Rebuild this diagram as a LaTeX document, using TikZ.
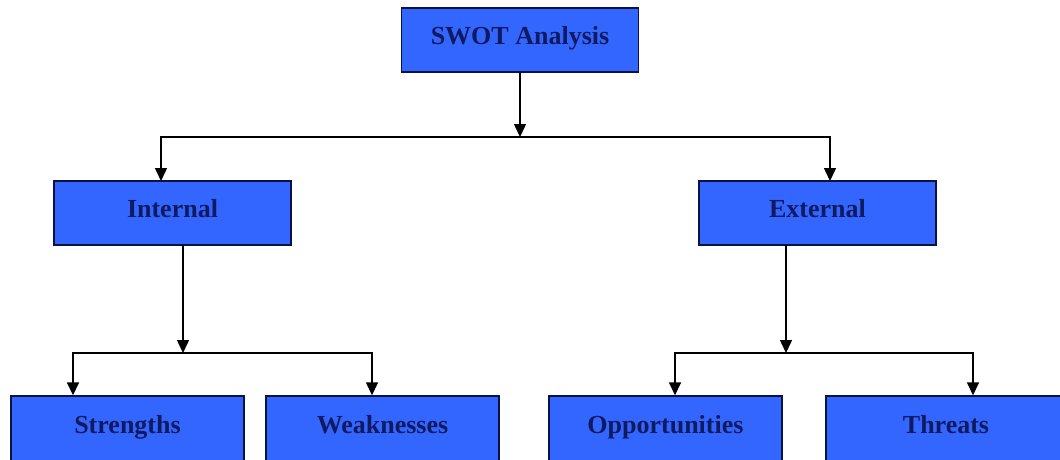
\documentclass[tikz,border=0pt]{standalone}
\usepackage{fontspec}
\setmainfont{Liberation Serif}
\usetikzlibrary{positioning, arrows.meta}

\definecolor{boxblue}{RGB}{51,102,255}
\definecolor{boxtext}{RGB}{16,26,96}

\begin{document}
\begin{tikzpicture}[x=1pt, y=-1pt,
    box/.style = {draw=boxtext!70!black, line width=1.4pt, fill=boxblue,
      minimum width=237pt, minimum height=64pt, inner sep=0pt,
      text height=18pt, text depth=10pt,
      text=boxtext, font=\fontsize{26}{30}\selectfont\bfseries},
    leaf/.style = {box, minimum width=233pt, minimum height=67pt},
    arrow/.style = {line width=1.5pt, -{Triangle[width=12pt,length=13pt]}},
    line/.style = {line width=1.5pt}]

    \useasboundingbox (0,0) rectangle (1060,459);
    \clip (0,0) rectangle (1060,459);

    % Boxes
    \node [box] (swot) at (520,40) {SWOT Analysis};
    \node [box] (internal) at (172.5,213) {Internal};
    \node [box] (external) at (817.5,213) {External};
    \node [leaf] (strengths) at (127.5,429.5) {Strengths};
    \node [leaf] (weaknesses) at (382.5,429.5) {Weaknesses};
    \node [leaf] (opportunities) at (665.5,429.5) {Opportunities};
    \node [leaf, minimum width=240pt] (threats) at (946,429.5) {Threats};

    % Branch points
    \coordinate (top split) at (520,137);
    \coordinate (int in) at (161,181);
    \coordinate (ext in) at (830,181);
    \coordinate (int out) at (183,245);
    \coordinate (int split) at (183,353);
    \coordinate (ext out) at (786,245);
    \coordinate (ext split) at (786,353);

    % Connectors
    \draw [arrow] (swot.south) -- (top split);
    \draw [arrow] (top split) -| (int in);
    \draw [arrow] (top split) -| (ext in);

    \draw [arrow] (int out) -- (int split);
    \draw [arrow] (int split) -| ([xshift=-54.5pt]strengths.north);
    \draw [arrow] (int split) -| ([xshift=-10.5pt]weaknesses.north);

    \draw [arrow] (ext out) -- (ext split);
    \draw [arrow] (ext split) -| ([xshift=9.5pt]opportunities.north);
    \draw [arrow] (ext split) -| ([xshift=27pt]threats.north);
\end{tikzpicture}
\end{document}
